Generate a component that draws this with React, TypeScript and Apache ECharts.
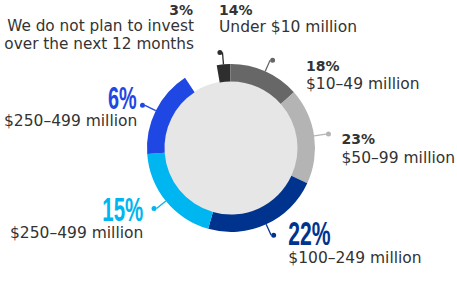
import React, { useEffect, useRef } from "react";
import * as echarts from "echarts";

// Ring segments, clockwise from the top-left black segment (sizes as drawn, %)
const segmentNames = [
  "We do not plan to invest over the next 12 months",
  "Under $10 million",
  "$10–49 million",
  "$50–99 million",
  "$100–249 million",
  "$250–499 million (a)",
  "$250–499 million (b)",
];
const arcShares = [2.6, 13.6, 18.4, 22.5, 19.5, 16.9];
const gapShare = 6.5;
const segmentColors = ["#2e2e2e", "#676767", "#b4b4b4", "#00338e", "#00b6f0", "#1f47e3"];

// Printed labels
const pctLabels = ["3%", "14%", "18%", "23%", "22%", "15%", "6%"];
const catLabels = [
  "We do not plan to invest\nover the next 12 months",
  "Under $10 million",
  "$10–49 million",
  "$50–99 million",
  "$100–249 million",
  "$250–499 million",
  "$250–499 million",
];

const TXT = "#333333";
const SANS = '"DejaVu Sans", sans-serif';
const BIG = '"Liberation Sans", Arial, sans-serif';

function txt(text: string, x: number, y: number, align: string, opts: any = {}) {
  const { size = 15.5, weight = "normal", color = TXT, family = SANS, scaleX = 1, lineHeight } = opts;
  return {
    type: "text",
    x,
    y,
    scaleX,
    silent: true,
    style: {
      text,
      fill: color,
      fontSize: size,
      fontWeight: weight,
      fontFamily: family,
      lineHeight,
      align,
      textAlign: align,
      verticalAlign: "middle",
      textVerticalAlign: "middle",
    },
  };
}

export default function App() {
  const ref = useRef<HTMLDivElement>(null);
  useEffect(() => {
    if (!ref.current) return;
    const chart = echarts.init(ref.current, null, { renderer: "svg" });
    const ringData: any[] = arcShares.map((v, i) => ({
      value: v,
      name: segmentNames[i],
      itemStyle: { color: segmentColors[i] },
      label: {
        show: true,
        position: "outside",
        formatter: "{d|}",
        distanceToLabelLine: 0,
        rich: { d: { width: 5, height: 5, borderRadius: 2.5, backgroundColor: segmentColors[i] } },
      },
      labelLine: { show: true, length: 12, length2: 0, lineStyle: { color: segmentColors[i], width: 1.3 } },
    }));
    ringData.push({
      value: gapShare,
      name: "gap",
      itemStyle: { color: "rgba(0,0,0,0)" },
      label: { show: false },
      labelLine: { show: false },
    });

    chart.setOption({
      animation: false,
      graphic: [
        txt(pctLabels[0], 193, 10, "right", { size: 14, weight: "bold" }),
        txt(catLabels[0], 194, 34.6, "right", { size: 15.3, lineHeight: 18 }),
        txt(pctLabels[1], 219, 9.5, "left", { size: 14, weight: "bold" }),
        txt(catLabels[1], 219, 26.6, "left"),
        txt(pctLabels[2], 306, 66, "left", { size: 14, weight: "bold" }),
        txt(catLabels[2], 306, 83.8, "left"),
        txt(pctLabels[3], 341.5, 139.2, "left", { size: 14, weight: "bold" }),
        txt(catLabels[3], 341.5, 157.6, "left"),
        txt(pctLabels[4], 288.3, 234, "left", { size: 33, weight: "bold", family: BIG, color: segmentColors[3], scaleX: 0.64 }),
        txt(catLabels[4], 288.3, 257.6, "left"),
        txt(pctLabels[5], 143.3, 209.2, "right", { size: 33, weight: "bold", family: BIG, color: segmentColors[4], scaleX: 0.62 }),
        txt(catLabels[5], 143.3, 232.6, "right"),
        txt(pctLabels[6], 136.7, 98, "right", { size: 31, weight: "bold", family: BIG, color: segmentColors[5], scaleX: 0.64 }),
        txt(catLabels[6], 137.3, 121, "right"),
      ],
      series: [
        {
          type: "pie",
          center: [231, 148],
          radius: [0, 67],
          silent: true,
          label: { show: false },
          labelLine: { show: false },
          data: [{ value: 1, name: "center", itemStyle: { color: "#e6e6e6" } }],
        },
        {
          type: "pie",
          center: [231, 148],
          radius: [66.5, 84],
          startAngle: 99.8,
          clockwise: true,
          silent: true,
          avoidLabelOverlap: false,
          minAngle: 0,
          emphasis: { disabled: true },
          data: ringData,
        },
      ],
    });
    return () => chart.dispose();
  }, []);
  return (
    <div
      ref={ref}
      style={{ position: "fixed", left: 0, top: 0, width: 457, height: 293, background: "#fff" }}
    />
  );
}
